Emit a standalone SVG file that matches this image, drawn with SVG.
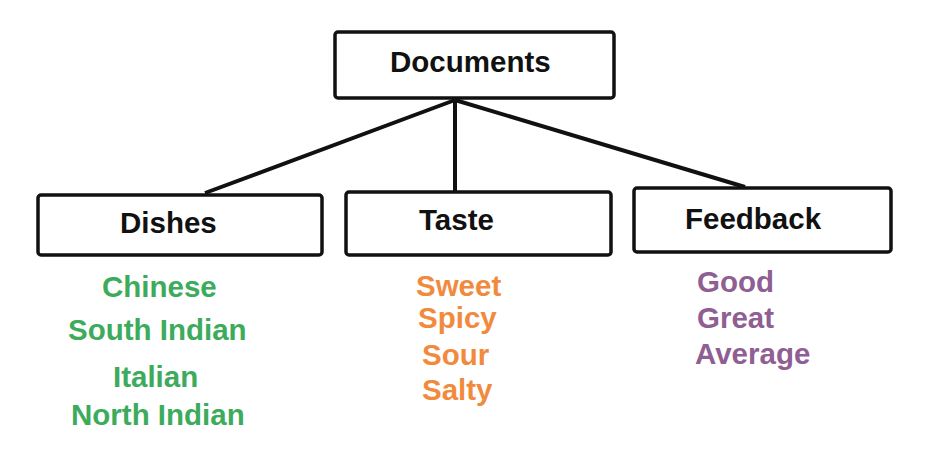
<svg xmlns="http://www.w3.org/2000/svg" width="934" height="469" viewBox="0 0 934 469">
<style>
.box{fill:#fff;stroke:#111;stroke-width:3.5}
.lbl{font-family:"Liberation Sans",Arial,sans-serif;font-weight:bold;font-size:29.5px;fill:#111}
.g{font-family:"Liberation Sans",Arial,sans-serif;font-weight:bold;font-size:29.5px;fill:#3dab5c}
.o{font-family:"Liberation Sans",Arial,sans-serif;font-weight:bold;font-size:29.5px;fill:#f28a3e}
.p{font-family:"Liberation Sans",Arial,sans-serif;font-weight:bold;font-size:29.5px;fill:#8f5e92}
.edge{stroke:#111;stroke-width:4;fill:none}
</style>
<rect width="934" height="469" fill="#fff"/>
<g id="connectors">
<line class="edge" x1="455" y1="100" x2="205" y2="193"/>
<line class="edge" x1="455" y1="100" x2="455" y2="192"/>
<line class="edge" x1="455" y1="100" x2="745" y2="187"/>
</g>
<g id="documents">
<rect class="box" x="335" y="32" width="279" height="66" rx="3"/>
<text class="lbl" x="390" y="72">Documents</text>
</g>
<g id="dishes">
<rect class="box" x="38" y="195" width="284" height="60" rx="3"/>
<text class="lbl" x="120" y="233">Dishes</text>
</g>
<g id="taste">
<rect class="box" x="346" y="192" width="265" height="63" rx="3"/>
<text class="lbl" x="419" y="230">Taste</text>
</g>
<g id="feedback">
<rect class="box" x="634" y="188" width="257" height="64" rx="3"/>
<text class="lbl" x="685" y="229">Feedback</text>
</g>
<g id="dishes-items">
<text class="g" x="102" y="297">Chinese</text>
<text class="g" x="68" y="340">South Indian</text>
<text class="g" x="113" y="387">Italian</text>
<text class="g" x="71" y="425">North Indian</text>
</g>
<g id="taste-items">
<text class="o" x="416" y="296">Sweet</text>
<text class="o" x="418" y="328">Spicy</text>
<text class="o" x="422" y="365">Sour</text>
<text class="o" x="422" y="400">Salty</text>
</g>
<g id="feedback-items">
<text class="p" x="697" y="292">Good</text>
<text class="p" x="697" y="328">Great</text>
<text class="p" x="695" y="364">Average</text>
</g>
</svg>
